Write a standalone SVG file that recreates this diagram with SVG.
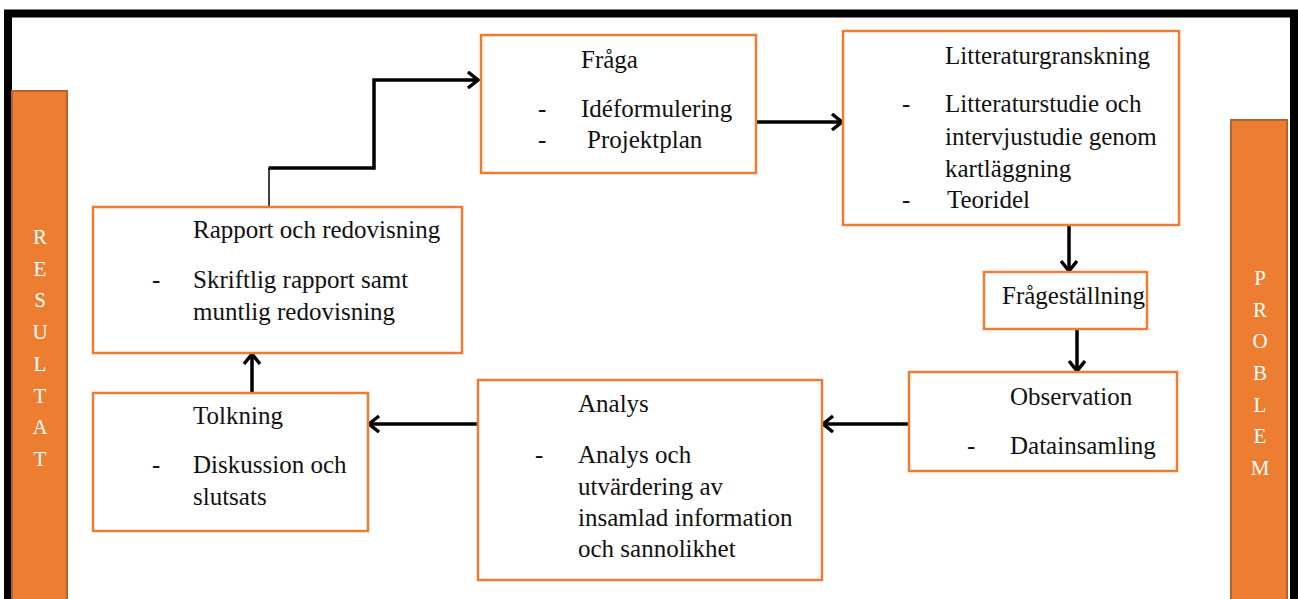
<svg xmlns="http://www.w3.org/2000/svg" width="1298" height="599" viewBox="0 0 1298 599">
<defs>
<style>
.box{fill:#fff;stroke:#ED7D31;stroke-width:2.5}
.bar{fill:#ED7D31;stroke:#B8612A;stroke-width:2}
.t{font-family:"Liberation Serif","Times New Roman",serif;font-size:25px;fill:#111}
.v{font-family:"Liberation Serif","Times New Roman",serif;font-size:21px;fill:#fff;text-anchor:middle}
.c{fill:none;stroke:#000;stroke-width:3.5}
</style>
<marker id="ah" markerUnits="userSpaceOnUse" markerWidth="16" markerHeight="20" refX="12" refY="9" orient="auto">
<path d="M2,1 L12,9 L2,17" fill="none" stroke="#000" stroke-width="3.5"/>
</marker>
</defs>
<rect width="1298" height="599" fill="#fff"/>
<path d="M8,599 V13.5 H1294 V599" fill="none" stroke="#000" stroke-width="8"/>
<g id="resultat">
<rect class="bar" x="12" y="91" width="55" height="512"/>
<text class="v" x="40" y="244">R</text>
<text class="v" x="40" y="276">E</text>
<text class="v" x="40" y="307">S</text>
<text class="v" x="40" y="339">U</text>
<text class="v" x="40" y="371">L</text>
<text class="v" x="40" y="403">T</text>
<text class="v" x="40" y="434">A</text>
<text class="v" x="40" y="466">T</text>
</g>
<g id="problem">
<rect class="bar" x="1231" y="120" width="56" height="483"/>
<text class="v" x="1260" y="285">P</text>
<text class="v" x="1260" y="317">R</text>
<text class="v" x="1260" y="348">O</text>
<text class="v" x="1260" y="380">B</text>
<text class="v" x="1260" y="412">L</text>
<text class="v" x="1260" y="443">E</text>
<text class="v" x="1260" y="475">M</text>
</g>
<g id="connectors">
<line x1="269" y1="207" x2="269" y2="168" stroke="#000" stroke-width="1.5"/>
<path class="c" d="M268.5,168 H374 V80 H478" marker-end="url(#ah)"/>
<path class="c" d="M755,122 H842" marker-end="url(#ah)"/>
<path class="c" d="M1069,226 V271" marker-end="url(#ah)"/>
<path class="c" d="M1077,330 V371" marker-end="url(#ah)"/>
<path class="c" d="M909,424 H823" marker-end="url(#ah)"/>
<path class="c" d="M478,424 H369" marker-end="url(#ah)"/>
<path class="c" d="M252,393 V354" marker-end="url(#ah)"/>
</g>
<g id="fraga">
<rect class="box" x="481" y="35" width="275" height="138"/>
<text class="t" x="581" y="68">Fråga</text>
<text class="t" x="538" y="117">-</text>
<text class="t" x="581" y="117">Idéformulering</text>
<text class="t" x="538" y="148">-</text>
<text class="t" x="587" y="148">Projektplan</text>
</g>
<g id="litteraturgranskning">
<rect class="box" x="843" y="31" width="336" height="194"/>
<text class="t" x="945" y="64">Litteraturgranskning</text>
<text class="t" x="902" y="112">-</text>
<text class="t" x="945" y="112">Litteraturstudie och</text>
<text class="t" x="945" y="145">intervjustudie genom</text>
<text class="t" x="945" y="177">kartläggning</text>
<text class="t" x="902" y="208">-</text>
<text class="t" x="947" y="208">Teoridel</text>
</g>
<g id="fragestallning">
<rect class="box" x="984" y="272" width="163" height="57"/>
<text class="t" x="1002" y="304">Frågeställning</text>
</g>
<g id="observation">
<rect class="box" x="909" y="372" width="268" height="99"/>
<text class="t" x="1010" y="405">Observation</text>
<text class="t" x="967" y="454">-</text>
<text class="t" x="1010" y="454">Datainsamling</text>
</g>
<g id="analys">
<rect class="box" x="478" y="380" width="344" height="200"/>
<text class="t" x="578" y="412">Analys</text>
<text class="t" x="535" y="463">-</text>
<text class="t" x="578" y="463">Analys och</text>
<text class="t" x="578" y="495">utvärdering av</text>
<text class="t" x="578" y="526">insamlad information</text>
<text class="t" x="578" y="557">och sannolikhet</text>
</g>
<g id="tolkning">
<rect class="box" x="93" y="393" width="275" height="138"/>
<text class="t" x="193" y="424">Tolkning</text>
<text class="t" x="152" y="473">-</text>
<text class="t" x="193" y="473">Diskussion och</text>
<text class="t" x="193" y="505">slutsats</text>
</g>
<g id="rapport">
<rect class="box" x="93" y="207" width="369" height="146"/>
<text class="t" x="193" y="238">Rapport och redovisning</text>
<text class="t" x="152" y="288">-</text>
<text class="t" x="193" y="288">Skriftlig rapport samt</text>
<text class="t" x="193" y="320">muntlig redovisning</text>
</g>
</svg>
